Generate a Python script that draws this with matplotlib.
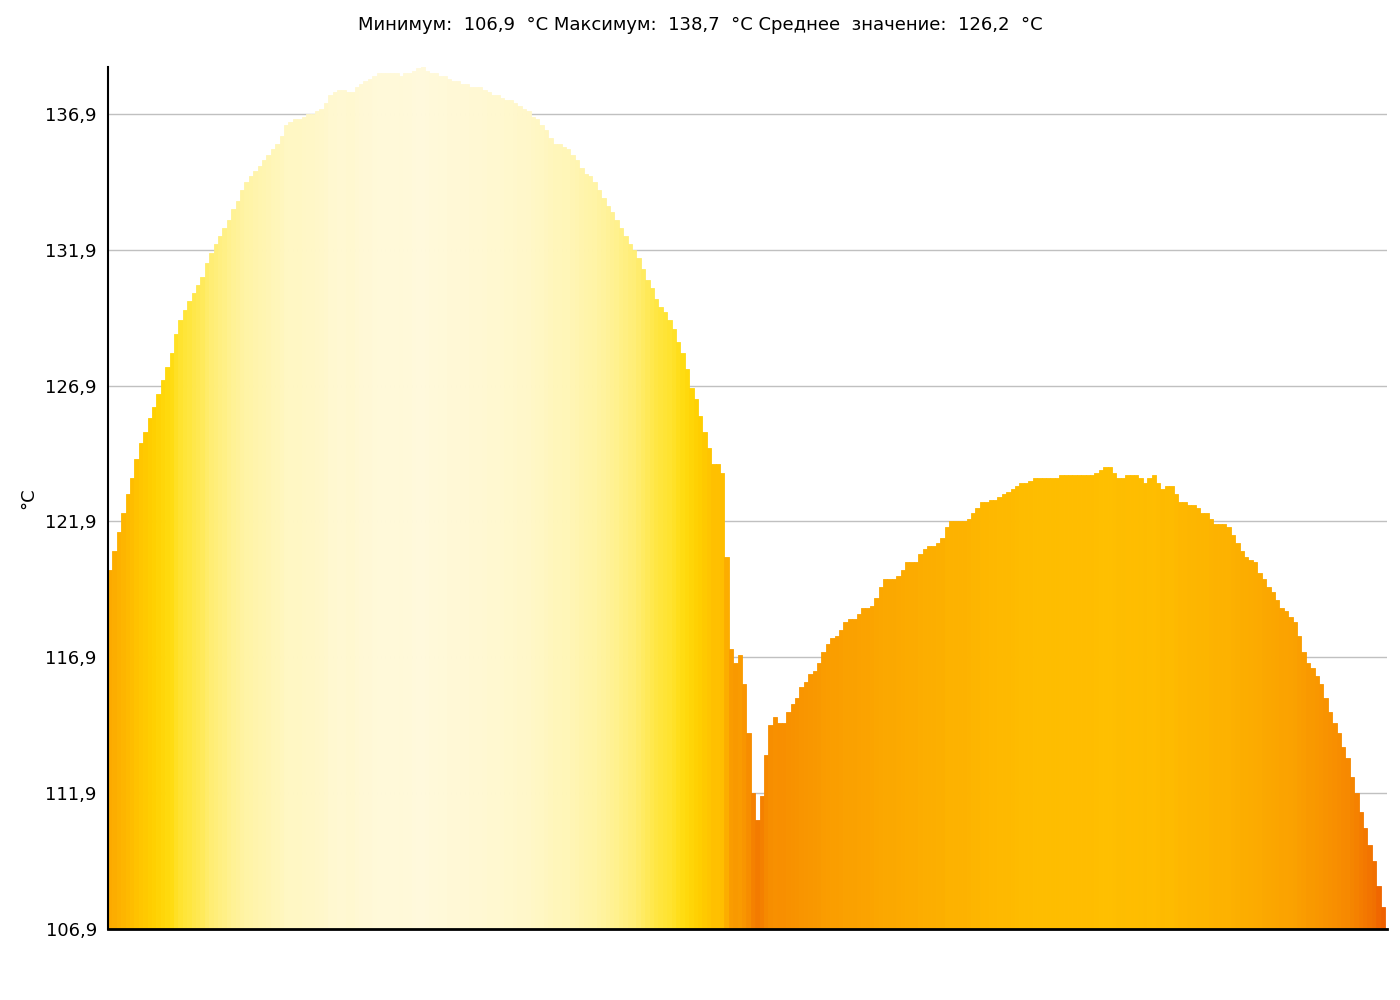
import numpy as np
import matplotlib
matplotlib.use("Agg")
import matplotlib.pyplot as plt
from matplotlib.colors import LinearSegmentedColormap, Normalize
from matplotlib.ticker import FixedLocator, FuncFormatter

# temperature profile, one value per column (°C)
temps = [
    120.1, 120.8, 121.5, 122.2, 122.9, 123.5, 124.2, 124.8, 125.2, 125.7,
    126.1, 126.6, 127.1, 127.6, 128.1, 128.8, 129.3, 129.7, 130.0, 130.3,
    130.6, 130.9, 131.4, 131.8, 132.1, 132.4, 132.7, 133.0, 133.4, 133.7,
    134.1, 134.4, 134.6, 134.8, 135.0, 135.2, 135.4, 135.6, 135.8, 136.1,
    136.5, 136.6, 136.7, 136.7, 136.8, 136.9, 136.9, 137.0, 137.1, 137.3,
    137.6, 137.7, 137.8, 137.8, 137.7, 137.7, 137.9, 138.0, 138.1, 138.2,
    138.3, 138.4, 138.4, 138.4, 138.4, 138.4, 138.3, 138.4, 138.4, 138.5,
    138.6, 138.7, 138.5, 138.4, 138.4, 138.3, 138.3, 138.2, 138.1, 138.1,
    138.0, 138.0, 137.9, 137.9, 137.9, 137.8, 137.7, 137.6, 137.6, 137.5,
    137.4, 137.4, 137.3, 137.2, 137.1, 137.0, 136.8, 136.7, 136.5, 136.3,
    136.0, 135.8, 135.8, 135.7, 135.6, 135.4, 135.2, 134.9, 134.7, 134.6,
    134.4, 134.1, 133.8, 133.5, 133.3, 133.0, 132.7, 132.4, 132.1, 131.9,
    131.6, 131.2, 130.8, 130.5, 130.1, 129.8, 129.6, 129.3, 129.0, 128.5,
    128.1, 127.5, 126.8, 126.4, 125.8, 125.2, 124.6, 124.0, 124.0, 123.7,
    120.6, 117.2, 116.7, 117.0, 115.9, 114.1, 111.9, 110.9, 111.8, 113.3,
    114.4, 114.7, 114.5, 114.5, 114.9, 115.2, 115.4, 115.8, 116.0, 116.3,
    116.4, 116.7, 117.1, 117.4, 117.6, 117.7, 117.9, 118.2, 118.3, 118.3,
    118.5, 118.7, 118.7, 118.8, 119.1, 119.5, 119.8, 119.8, 119.8, 119.9,
    120.1, 120.4, 120.4, 120.4, 120.7, 120.9, 121.0, 121.0, 121.1, 121.3,
    121.7, 121.9, 121.9, 121.9, 121.9, 122.0, 122.2, 122.4, 122.6, 122.6,
    122.7, 122.7, 122.8, 122.9, 123.0, 123.1, 123.2, 123.3, 123.3, 123.4,
    123.5, 123.5, 123.5, 123.5, 123.5, 123.5, 123.6, 123.6, 123.6, 123.6,
    123.6, 123.6, 123.6, 123.6, 123.7, 123.8, 123.9, 123.9, 123.7, 123.5,
    123.5, 123.6, 123.6, 123.6, 123.5, 123.3, 123.5, 123.6, 123.3, 123.1,
    123.2, 123.2, 122.9, 122.6, 122.6, 122.5, 122.5, 122.4, 122.2, 122.2,
    122.0, 121.8, 121.8, 121.8, 121.7, 121.4, 121.1, 120.8, 120.6, 120.5,
    120.4, 120.0, 119.8, 119.5, 119.3, 119.0, 118.7, 118.6, 118.4, 118.2,
    117.7, 117.1, 116.7, 116.5, 116.2, 115.9, 115.4, 114.9, 114.5, 114.1,
    113.6, 113.2, 112.5, 111.9, 111.2, 110.6, 110.0, 109.4, 108.5, 107.7,
]

t_min, t_max, t_mean = 106.9, 138.7, 126.2
yticks = [106.9, 111.9, 116.9, 121.9, 126.9, 131.9, 136.9]

# palette: hot orange at the low end, pale cream at the top
palette_vals = [106.9, 110.0, 113.0, 116.0, 119.0, 122.0, 124.0, 126.0,
                128.0, 130.0, 132.0, 134.0, 136.0, 138.7]
palette_cols = ["#ee5a00", "#f27500", "#f68800", "#f99600", "#fba500",
                "#fdb300", "#ffc000", "#ffcf00", "#ffdc10", "#ffe640",
                "#ffee78", "#fff3a0", "#fff6bc", "#fff9dc"]

def comma(v):
    return f"{v:.1f}".replace(".", ",")

plt.rcParams['font.family'] = ['DejaVu Sans']

norm = Normalize(t_min, t_max)
cmap = LinearSegmentedColormap.from_list(
    "thermo", list(zip([norm(v) for v in palette_vals], palette_cols)))

fig = plt.figure(figsize=(14, 10), dpi=100)
ax = fig.add_axes([0.0771, 0.071, 0.9136, 0.862])

x = np.arange(len(temps))
heights = np.array(temps) - t_min
colors = cmap(norm(np.array(temps)))
ax.bar(x, heights, bottom=t_min, width=1.0, align='edge',
       color=colors, edgecolor=colors, linewidth=0.6, zorder=2)

ax.set_xlim(0, len(temps) + 0.45)
ax.set_ylim(t_min, 138.63)
ax.yaxis.set_major_locator(FixedLocator(yticks))
ax.yaxis.set_major_formatter(FuncFormatter(lambda v, p: comma(v)))
ax.set_xticks([])
ax.tick_params(axis='y', length=0, pad=8, labelsize=13)
ax.grid(axis='y', color='#c0c0c0', linewidth=1, zorder=0)

for side in ('top', 'right'):
    ax.spines[side].set_visible(False)
ax.spines['left'].set_linewidth(1.5)
ax.spines['bottom'].set_linewidth(2)
ax.spines['left'].set_zorder(3)
ax.spines['bottom'].set_zorder(3)

ax.set_ylabel("°C", fontsize=13, labelpad=6)
fig.text(0.5, 0.975,
         f"Минимум:  {comma(t_min)}  °C Максимум:  {comma(t_max)}  °C "
         f"Среднее  значение:  {comma(t_mean)}  °C",
         ha='center', va='center', fontsize=13)

fig.savefig("out.png", dpi=100)
